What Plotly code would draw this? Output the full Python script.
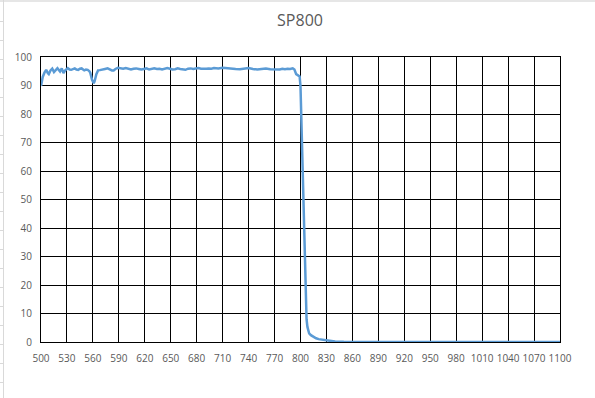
import plotly.graph_objects as go

wavelength = [500, 501, 502, 504, 506, 508, 509, 511, 513, 515, 517, 519, 522, 524, 526, 528,
              531, 533, 535, 537, 539, 541, 543, 545, 547, 550, 552, 554, 556, 557, 559, 561,
              562, 564, 566, 568, 571, 574, 577, 580, 582, 584, 586, 589, 592, 595, 598, 601,
              604, 607, 610, 613, 616, 619, 622, 625, 628, 631, 634, 637, 640, 643, 646, 649,
              652, 655, 658, 661, 664, 667, 670, 673, 676, 679, 682, 685, 688, 691, 694, 697,
              700, 705, 710, 715, 720, 725, 730, 735, 740, 745, 750, 755, 760, 765, 770, 773,
              776, 779, 782, 785, 788, 791, 793, 795, 797, 799, 800, 801, 802, 803, 804, 805,
              806, 807, 808, 809, 810, 812, 815, 818, 821, 825, 830, 835, 840, 850, 860, 900,
              950, 1000, 1050, 1100]
transmission = [89.8, 92.5, 93.0, 94.5, 95.5, 94.3, 94.0, 95.3, 95.9, 94.7, 95.6, 96.1, 94.9, 96.0, 94.4, 95.3,
                96.1, 95.6, 95.5, 95.9, 96.0, 95.6, 95.5, 95.9, 96.0, 95.3, 95.6, 95.5, 95.0, 94.4, 92.0, 90.8,
                91.5, 94.0, 95.3, 95.4, 95.5, 95.8, 96.0, 95.5, 95.3, 95.3, 95.8, 96.2, 96.0, 95.9, 96.1, 95.8,
                95.6, 95.9, 96.0, 95.8, 95.6, 95.8, 96.0, 95.6, 95.7, 96.0, 95.8, 95.9, 95.6, 95.8, 96.1, 95.9,
                95.6, 95.7, 96.0, 95.8, 95.6, 95.5, 95.9, 96.0, 95.8, 95.9, 96.1, 95.9, 95.8, 95.9, 96.0, 95.9,
                96.1, 96.0, 96.2, 96.0, 95.9, 95.8, 95.7, 95.9, 96.1, 95.8, 95.6, 95.8, 96.0, 95.7, 95.6, 95.8,
                95.6, 95.9, 95.7, 95.9, 95.8, 96.0, 95.6, 94.0, 93.6, 93.2, 89.7, 77.0, 64.0, 51.0, 38.0, 25.0,
                14.0, 8.0, 5.3, 3.8, 3.0, 2.4, 1.8, 1.3, 1.0, 0.8, 0.5, 0.3, 0.15, 0.05, 0.0, 0.0,
                0.0, 0.0, 0.0, 0.0]

x_ticks = list(range(500, 1101, 30))
y_ticks = list(range(0, 101, 10))

title_text = "SP800"

W, H = 595, 398
L, R, T, B = 41, 35, 57, 56
pw = W - L - R
ph = H - T - B

def px_to_paper_x(px):
    return (px - L) / pw

def py_to_paper_y(py):
    return (H - B - py) / ph

fig = go.Figure()
fig.add_trace(go.Scatter(
    x=wavelength, y=transmission, mode="lines",
    line=dict(color="#5B9BD5", width=2.5),
    hoverinfo="x+y", showlegend=False,
))

shapes = []
# spreadsheet background hints: top gray strip and left column border with row ticks
shapes.append(dict(type="rect", xref="paper", yref="paper",
                   x0=px_to_paper_x(0), x1=px_to_paper_x(W), y0=py_to_paper_y(2), y1=py_to_paper_y(0),
                   fillcolor="#e6e6e6", line=dict(width=0), layer="below"))
shapes.append(dict(type="line", xref="paper", yref="paper",
                   x0=px_to_paper_x(3.5), x1=px_to_paper_x(3.5), y0=py_to_paper_y(H), y1=py_to_paper_y(0),
                   line=dict(color="#d9d9d9", width=1), layer="below"))
for ry in [21, 40, 59, 78, 97, 116, 135, 154, 173, 192, 211, 230, 249, 268, 287, 306, 325, 344, 363, 382]:
    shapes.append(dict(type="line", xref="paper", yref="paper",
                       x0=px_to_paper_x(0), x1=px_to_paper_x(3), y0=py_to_paper_y(ry + 0.5), y1=py_to_paper_y(ry + 0.5),
                       line=dict(color="#d9d9d9", width=1), layer="below"))

font_family = "Open Sans, Liberation Sans, sans-serif"

fig.update_layout(
    width=W, height=H,
    margin=dict(l=L, r=R, t=T, b=B, pad=0),
    paper_bgcolor="white", plot_bgcolor="white",
    title=dict(text=title_text, x=(300 - 0) / W, xanchor="center", y=1 - 20 / H, yanchor="middle",
               font=dict(family=font_family, size=16, color="#595959")),
    shapes=shapes,
    xaxis=dict(range=[500, 1100], tickmode="array", tickvals=x_ticks, ticktext=[str(v) for v in x_ticks],
               showgrid=True, gridcolor="#000000", gridwidth=1,
               showline=True, linecolor="#000000", linewidth=1, mirror=True,
               ticks="outside", ticklen=7, tickcolor="rgba(0,0,0,0)",
               tickfont=dict(family=font_family, size=10, color="#595959"),
               zeroline=False, fixedrange=True),
    yaxis=dict(range=[0, 100], tickmode="array", tickvals=y_ticks, ticktext=[str(v) for v in y_ticks],
               showgrid=True, gridcolor="#000000", gridwidth=1,
               showline=True, linecolor="#000000", linewidth=1, mirror=True,
               ticks="outside", ticklen=6, tickcolor="rgba(0,0,0,0)",
               tickfont=dict(family=font_family, size=10, color="#595959"),
               zeroline=False, fixedrange=True),
)

fig.write_html("out.html", config={"displayModeBar": False},
               post_script="document.body.style.margin='0px';document.body.style.padding='0px';")
